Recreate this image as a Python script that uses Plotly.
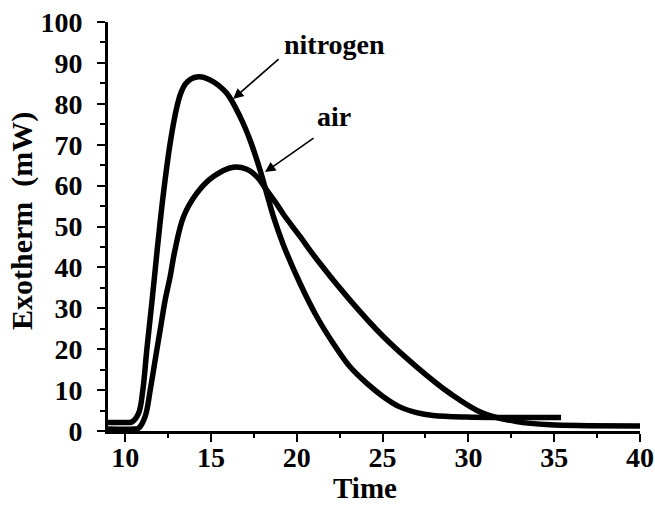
import plotly.graph_objects as go

# Data
nitrogen_time = [9.0, 10.2, 10.39, 10.78, 11.03, 11.26, 11.51, 11.75, 11.85, 12.23, 12.62, 13.0, 13.25, 13.5,
                 13.8, 14.27, 14.7, 15.14, 15.92, 16.7, 17.28, 17.86, 18.25, 18.64, 19.22, 20.2, 21.16, 22.13,
                 23.1, 24.07, 25.04, 26.0, 26.98, 27.95, 29.9, 32.0, 35.4]
nitrogen_exo = [2.1, 2.1, 2.2, 4.3, 10.0, 19.8, 29.6, 39.4, 43.6, 58.1, 70.3, 79.0, 82.7, 84.8,
                86.0, 86.6, 86.3, 85.4, 82.6, 76.8, 71.1, 63.8, 58.1, 52.4, 45.5, 36.0, 28.0, 21.4,
                15.7, 11.7, 8.4, 5.9, 4.5, 3.8, 3.4, 3.3, 3.3]

air_time = [9.0, 10.5, 10.78, 11.16, 11.46, 11.75, 12.04, 12.33, 12.62, 12.88, 13.4, 14.17, 15.14,
            16.3, 17.09, 17.67, 18.25, 18.83, 19.22, 20.2, 21.16, 23.1, 25.04, 26.98, 28.93,
            30.87, 32.81, 34.75, 37.0, 40.0]
air_exo = [0.5, 0.5, 0.7, 3.5, 10.0, 17.4, 24.7, 32.0, 37.7, 43.8, 52.4, 58.1, 62.2,
           64.5, 64.0, 62.2, 58.9, 55.5, 53.0, 47.5, 42.0, 32.0, 23.1, 15.7, 9.2,
           4.3, 2.3, 1.5, 1.3, 1.2]

x_ticks = [10, 15, 20, 25, 30, 35, 40]
y_ticks = [0, 10, 20, 30, 40, 50, 60, 70, 80, 90, 100]

x_title = "Time"
y_title = "Exotherm  (mW)"

FONT = "Liberation Serif, Times New Roman, serif"
TITLE_FONT = dict(family=FONT, size=30, color="black", weight="bold")

fig = go.Figure()
fig.add_trace(go.Scatter(x=nitrogen_time, y=nitrogen_exo, mode="lines", name="nitrogen",
                         line=dict(color="black", width=5.5, shape="spline", smoothing=1.0),
                         showlegend=False))
fig.add_trace(go.Scatter(x=air_time, y=air_exo, mode="lines", name="air",
                         line=dict(color="black", width=5.5, shape="spline", smoothing=1.0),
                         showlegend=False))

axis_common = dict(
    showline=True, linecolor="black", linewidth=3, mirror=False,
    ticks="outside", ticklen=8, tickwidth=2, tickcolor="black",
    showgrid=False, zeroline=False,
    tickfont=dict(family=FONT, size=28, color="black", weight="bold"),
)

fig.update_xaxes(
    range=[9, 40], tickvals=x_ticks, ticktext=[str(v) for v in x_ticks],
    minor=dict(dtick=2.5, tick0=0, ticks="outside", ticklen=4, tickwidth=2, tickcolor="black"),
    ticklabelstandoff=-9,
    **axis_common,
)
fig.update_yaxes(
    range=[0, 100], tickvals=y_ticks, ticktext=[str(v) for v in y_ticks],
    minor=dict(dtick=5, tick0=0, ticks="outside", ticklen=5, tickwidth=2, tickcolor="black"),
    ticklabelstandoff=9,
    **axis_common,
)

# axis titles
fig.add_annotation(x=0.483, y=-0.1394, xref="paper", yref="paper", text=x_title, showarrow=False,
                   xanchor="center", yanchor="middle", borderpad=0,
                   font=dict(family=FONT, size=29, color="black", weight="bold"))
fig.add_annotation(x=-0.162, y=0.513, xref="paper", yref="paper", text=y_title, showarrow=False,
                   textangle=-90, xanchor="center", yanchor="middle", font=TITLE_FONT)

# arrows
fig.add_annotation(x=16.29, y=81.2, ax=47, ay=-41, text="", showarrow=True,
                   arrowhead=2, arrowsize=1.3, arrowwidth=1.6, arrowcolor="black")
fig.add_annotation(x=18.15, y=63.3, ax=50, ay=-35, text="", showarrow=True,
                   arrowhead=2, arrowsize=1.3, arrowwidth=1.6, arrowcolor="black")
# labels
fig.add_annotation(x=22.17, y=94.4, text="nitrogen", showarrow=False,
                   font=dict(family=FONT, size=28, color="black", weight="bold"))
fig.add_annotation(x=22.14, y=76.8, text="air", showarrow=False,
                   font=dict(family=FONT, size=28, color="black", weight="bold"))

fig.update_layout(
    width=655, height=506,
    margin=dict(l=108, r=15, t=22, b=75, autoexpand=False),
    paper_bgcolor="white", plot_bgcolor="white",
)

fig.write_html("out.html")
